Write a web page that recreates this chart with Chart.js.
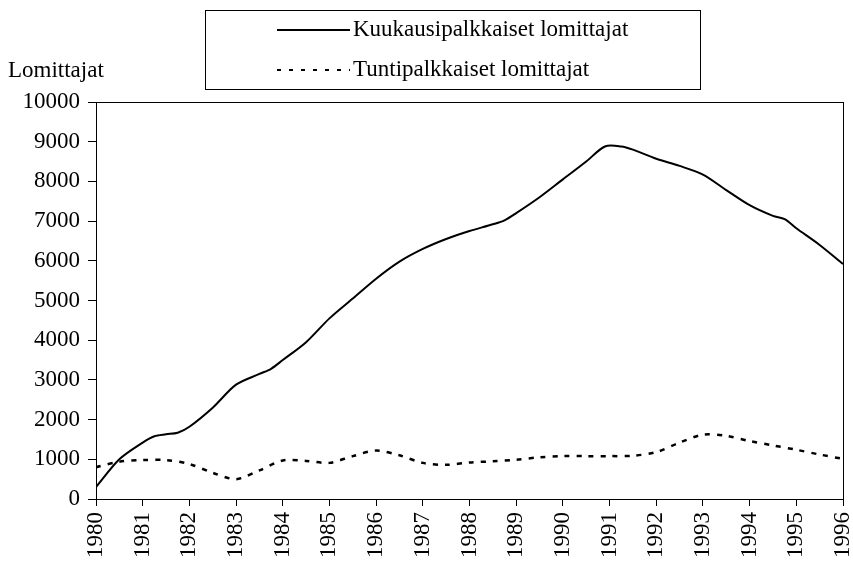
<!DOCTYPE html>
<html>
<head>
<meta charset="utf-8">
<script src="https://cdn.jsdelivr.net/npm/chart.js@4/dist/chart.umd.min.js"></script>
<style>
html, body { margin: 0; padding: 0; background: #fff; }
</style>
</head>
<body>
<canvas id="chart" width="853" height="562"></canvas>
<script>
// Sarjojen nimet
const sarjaNimet = ['Kuukausipalkkaiset lomittajat', 'Tuntipalkkaiset lomittajat'];
const akseliOtsikko = 'Lomittajat';

// Kuukausipalkkaiset: vuosi ja arvo
const kuukausiVuodet = [1980, 1980.5, 1981, 1981.25, 1981.5, 1981.75, 1982, 1982.5, 1983, 1983.5, 1983.75,
    1984, 1984.5, 1985, 1985.5, 1986, 1986.5, 1987, 1987.5, 1988, 1988.5, 1988.75, 1989, 1989.5,
    1990, 1990.5, 1990.9, 1991.25, 1991.5, 1992, 1992.5, 1993, 1993.5, 1994, 1994.5, 1994.75,
    1995, 1995.5, 1996];
const kuukausiArvot = [300, 1000, 1420, 1580, 1630, 1670, 1820, 2300, 2880, 3150, 3280,
    3500, 3950, 4550, 5050, 5550, 5980, 6300, 6550, 6750, 6920, 7020, 7200, 7600,
    8050, 8500, 8880, 8880, 8800, 8570, 8390, 8170, 7780, 7400, 7130, 7050,
    6820, 6400, 5920];

// Tuntipalkkaiset: vuosi ja arvo
const tuntiVuodet = [1980, 1980.5, 1981, 1981.5, 1982, 1982.5, 1983, 1983.5, 1984, 1984.5, 1985,
    1985.5, 1986, 1986.5, 1987, 1987.5, 1988, 1988.5, 1989, 1989.5, 1990, 1990.5, 1991, 1991.5,
    1992, 1992.5, 1993, 1993.5, 1994, 1994.5, 1995, 1995.5, 1996];
const tuntiArvot = [800, 940, 980, 980, 880, 660, 500, 720, 970, 960, 910,
    1080, 1220, 1100, 910, 860, 920, 950, 990, 1050, 1080, 1080, 1080, 1090,
    1180, 1420, 1620, 1590, 1460, 1350, 1240, 1120, 1010];

const fontti = "'Liberation Serif', 'Times New Roman', serif";

// Kehys, selite ja akselin otsikko piirretään itse
const kehysPlugin = {
    id: 'kehys',
    afterDraw(chart) {
        const ctx = chart.ctx;
        const a = chart.chartArea;
        ctx.save();
        ctx.strokeStyle = '#000';
        ctx.lineWidth = 1;
        ctx.strokeRect(Math.round(a.left) + 0.5, Math.round(a.top) + 0.5,
            Math.round(a.right - a.left), Math.round(a.bottom - a.top));

        // selitelaatikko
        ctx.strokeRect(205.5, 10.5, 495, 79);
        ctx.lineWidth = 2;
        ctx.beginPath();
        ctx.moveTo(277, 30);
        ctx.lineTo(350, 30);
        ctx.stroke();
        ctx.setLineDash([4, 8]);
        ctx.beginPath();
        ctx.moveTo(277, 70);
        ctx.lineTo(350, 70);
        ctx.stroke();
        ctx.setLineDash([]);

        ctx.fillStyle = '#000';
        ctx.font = '23px ' + fontti;
        ctx.textBaseline = 'middle';
        ctx.textAlign = 'left';
        ctx.fillText(sarjaNimet[0], 353, 30);
        ctx.fillText(sarjaNimet[1], 353, 70);
        ctx.fillText(akseliOtsikko, 8, 71);
        ctx.restore();
    }
};

const ctx = document.getElementById('chart').getContext('2d');
new Chart(ctx, {
    type: 'line',
    data: {
        datasets: [{
            label: sarjaNimet[0],
            data: kuukausiVuodet.map((v, i) => ({ x: v, y: kuukausiArvot[i] })),
            borderColor: '#000',
            borderWidth: 2,
            pointRadius: 0,
            tension: 0.3
        }, {
            label: sarjaNimet[1],
            data: tuntiVuodet.map((v, i) => ({ x: v, y: tuntiArvot[i] })),
            borderColor: '#000',
            borderWidth: 2.5,
            borderDash: [5, 7],
            pointRadius: 0,
            tension: 0.3
        }]
    },
    options: {
        responsive: false,
        animation: false,
        layout: { padding: { top: 102, right: 10, left: 0, bottom: 0 } },
        plugins: {
            legend: { display: false },
            tooltip: { enabled: false }
        },
        scales: {
            x: {
                type: 'linear',
                min: 1980,
                max: 1996,
                afterFit: s => { s.height = 63; s.paddingLeft = 0; s.paddingRight = 0; },
                ticks: {
                    stepSize: 1,
                    maxRotation: 90,
                    minRotation: 90,
                    color: '#000',
                    padding: 6,
                    font: { family: fontti, size: 23 },
                    callback: v => String(v)
                },
                grid: { drawOnChartArea: false, tickLength: 7, color: '#000' },
                border: { color: '#000' }
            },
            y: {
                min: 0,
                max: 10000,
                afterFit: s => { s.width = 96; s.paddingTop = 0; s.paddingBottom = 0; },
                ticks: {
                    stepSize: 1000,
                    color: '#000',
                    padding: 8,
                    font: { family: fontti, size: 23 },
                    callback: v => String(v)
                },
                grid: { drawOnChartArea: false, tickLength: 8, color: '#000' },
                border: { color: '#000' }
            }
        }
    },
    plugins: [kehysPlugin]
});
</script>
</body>
</html>
